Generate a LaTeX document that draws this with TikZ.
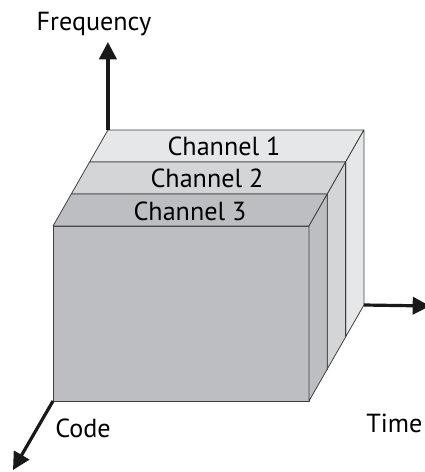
\documentclass[tikz,border=0pt]{standalone}
\usepackage{fontspec}
\setmainfont{PT Sans}
\usepackage{tikz}
\usetikzlibrary{arrows.meta,calc}
\definecolor{slabone}{RGB}{230,231,232}
\definecolor{slabtwo}{RGB}{212,213,215}
\definecolor{slabthree}{RGB}{189,190,193}

% one channel slab: #1 = front top-left corner, #2 = fill, #3 = name prefix
\newcommand{\chslab}[3]{%
  \coordinate (#3a) at #1;
  \coordinate (#3b) at ($(#3a)+(256,0)$);
  \coordinate (#3c) at ($(#3b)+(0,175)$);
  \coordinate (#3d) at ($(#3a)+(0,175)$);
  \filldraw[face, fill=#2] (#3a) -- (#3b) -- (#3c) -- (#3d) -- cycle;
  \filldraw[face, fill=#2] (#3a) -- (#3b) -- ++(18.3,-32) -- ($(#3a)+(18.3,-32)$) -- cycle;
  \filldraw[face, fill=#2] (#3b) -- (#3c) -- ++(18.3,-32) -- ($(#3b)+(18.3,-32)$) -- cycle;
}

\begin{document}
\begin{tikzpicture}[x=0.75pt, y=-0.75pt,
  font=\fontsize{19.6}{22}\selectfont,
  face/.style={draw=black!75, line width=0.6pt, line join=round},
  axis/.style={-{Triangle[length=13pt, width=13pt]}, line width=2.4pt, black!90},
]
\useasboundingbox (0,0) rectangle (425,472);

% slabs, back to front
\chslab{(89.6,162)}{slabone}{s1}
\chslab{(71.3,194)}{slabtwo}{s2}
\chslab{(53,226)}{slabthree}{s3}

\node (ch1) at (224,146) {Channel 1};
\node (ch2) at (207,178) {Channel 2};
\node (ch3) at (190,211) {Channel 3};

% axes
\coordinate (forg) at ($(s1a)+(18.3,-32)$);
\coordinate (torg) at ($(s1c)+(18.3,-32)$);
\coordinate (freqtip) at (107.9,42);
\coordinate (timetip) at (430,306);
\coordinate (codetip) at (13,470);

\draw[axis] (forg) -- (freqtip);
\draw[axis] (torg) -- (timetip);
\draw[axis] (s3d) -- (codetip);

\node (freq) at (94,24) {Frequency};
\node[anchor=east, inner sep=1pt] (time) at (424,423) {Time};
\node (code) at (83,428) {Code};
\end{tikzpicture}
\end{document}
